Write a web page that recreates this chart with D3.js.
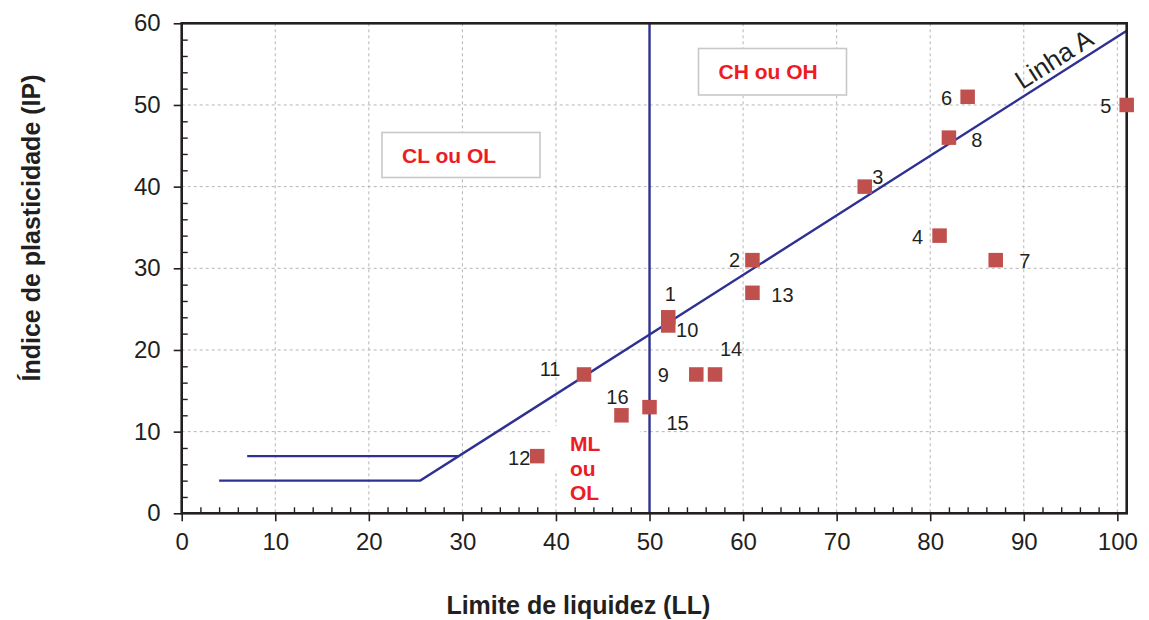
<!DOCTYPE html>
<html>
<head>
<meta charset="utf-8">
<script src="https://cdn.jsdelivr.net/npm/d3@7"></script>
<style>
  html, body { margin: 0; padding: 0; background: #fff; }
  svg { display: block; font-family: "Liberation Sans", Arial, sans-serif; }
</style>
</head>
<body>
<svg id="chart" width="1149" height="620"></svg>
<script>
// Soil samples: liquid limit (LL) and plasticity index (IP)
const sampleIds = [1, 2, 3, 4, 5, 6, 7, 8, 9, 10, 11, 12, 13, 14, 15, 16];
const llValues  = [52, 61, 73, 81, 101, 84, 87, 82, 55, 52, 43, 38, 61, 57, 50, 47];
const ipValues  = [24, 31, 40, 34, 50, 51, 31, 46, 17, 23, 17, 7, 27, 17, 13, 12];

// Casagrande chart reference lines
const lineA_LL = [4, 25.5, 101];
const lineA_IP = [4, 4, 59.1];
const upperBand_LL = [7, 29.6];
const upperBand_IP = [7, 7];
const divider_LL = [50, 50];
const divider_IP = [0, 60];

// Axis ticks
const xTicks = [0, 10, 20, 30, 40, 50, 60, 70, 80, 90, 100];
const yTicks = [0, 10, 20, 30, 40, 50, 60];

// Where each sample number sits around its marker (pixels)
const labelOffsets = {
  1: [2, -23], 2: [-18, 0], 3: [13, -10], 4: [-22, 1], 5: [-21, 1],
  6: [-21, 1], 7: [29, 1], 8: [28, 2], 9: [-33, 1], 10: [19, 5],
  11: [-34, -5], 12: [-18, 2], 13: [30, 2], 14: [16, -25], 15: [28, 16],
  16: [-4, -18]
};

const svg = d3.select("#chart");
const plotL = 181.7, plotR = 1126.7, plotT = 23.3, plotB = 513.3;
const x = d3.scaleLinear().domain([0, 101]).range([plotL, plotR]);
const y = d3.scaleLinear().domain([0, 60]).range([plotB, plotT]);

const ink = "#231f20";
const navy = "#2e3192";
const red = "#ed1c24";

// Dashed grid
const grid = svg.append("g");
grid.selectAll("line.vx").data(xTicks.filter(d => d > 0)).join("line")
  .attr("x1", d => x(d)).attr("x2", d => x(d))
  .attr("y1", plotT).attr("y2", plotB)
  .attr("stroke", "#b5b5b5").attr("stroke-width", 1).attr("stroke-dasharray", "3,3");
grid.selectAll("line.hy").data(yTicks.filter(d => d > 0 && d < 60)).join("line")
  .attr("x1", plotL).attr("x2", plotR)
  .attr("y1", d => y(d)).attr("y2", d => y(d))
  .attr("stroke", "#b5b5b5").attr("stroke-width", 1).attr("stroke-dasharray", "3,3");

// Zone boxes
function zoneBox(x0, y0, w, h, label) {
  svg.append("rect").attr("x", x0).attr("y", y0).attr("width", w).attr("height", h)
    .attr("fill", "#fff").attr("stroke", "#c8c8c8").attr("stroke-width", 1.6);
  svg.append("text").attr("x", x0 + 20).attr("y", y0 + h / 2)
    .attr("dominant-baseline", "central")
    .attr("font-size", 21).attr("font-weight", "bold").attr("fill", red)
    .text(label);
}
zoneBox(382, 132.5, 158, 45, "CL ou OL");
zoneBox(698.5, 48.5, 148, 46.5, "CH ou OH");

// ML ou OL zone label on a white patch
svg.append("rect").attr("x", 550).attr("y", 426).attr("width", 90).attr("height", 44).attr("fill", "#fff");
const mlText = svg.append("text").attr("font-size", 21).attr("font-weight", "bold").attr("fill", red);
["ML", "ou", "OL"].forEach((t, i) => {
  mlText.append("tspan").attr("x", 570).attr("y", 451 + i * 24.5).text(t);
});

// Reference lines
const line = d3.line().x(d => x(d[0])).y(d => y(d[1]));
function drawLine(xs, ys) {
  svg.append("path").datum(xs.map((v, i) => [v, ys[i]]))
    .attr("d", line).attr("fill", "none").attr("stroke", navy)
    .attr("stroke-width", 2.4);
}
drawLine(lineA_LL, lineA_IP);
drawLine(upperBand_LL, upperBand_IP);
drawLine(divider_LL, divider_IP);

// Line A label along the line
const angle = Math.atan2(y(lineA_IP[2]) - y(lineA_IP[1]), x(lineA_LL[2]) - x(lineA_LL[1])) * 180 / Math.PI;
const aLL = 94.1, aIP = 4 + (aLL - lineA_LL[1]) * (lineA_IP[2] - lineA_IP[1]) / (lineA_LL[2] - lineA_LL[1]);
svg.append("text")
  .attr("transform", `translate(${x(aLL)},${y(aIP)}) rotate(${angle})`)
  .attr("y", -6).attr("text-anchor", "middle")
  .attr("font-size", 26).attr("fill", ink)
  .text("Linha A");

// Plot frame
svg.append("rect").attr("x", plotL).attr("y", plotT)
  .attr("width", plotR - plotL).attr("height", plotB - plotT)
  .attr("fill", "none").attr("stroke", ink).attr("stroke-width", 2.6);

// Axes: major ticks outside with labels, minor ticks inside
const xMinor = d3.range(2, 101, 2).filter(d => d % 10 !== 0);
const yMinor = d3.range(2, 60, 2).filter(d => d % 10 !== 0);

const xAxis = svg.append("g").attr("transform", `translate(0,${plotB})`)
  .call(d3.axisBottom(x).tickValues(xTicks).tickFormat(d3.format("d")).tickSize(8).tickSizeOuter(0).tickPadding(12));
xAxis.select(".domain").remove();
xAxis.selectAll(".tick line").attr("stroke", ink).attr("stroke-width", 1.6);
xAxis.selectAll(".tick text").attr("font-size", 24).attr("fill", ink)
  .attr("font-family", "Liberation Sans, Arial, sans-serif");

const xMinorAxis = svg.append("g").attr("transform", `translate(0,${plotB})`)
  .call(d3.axisBottom(x).tickValues(xMinor).tickFormat("").tickSize(-6).tickSizeOuter(0));
xMinorAxis.select(".domain").remove();
xMinorAxis.selectAll(".tick line").attr("stroke", ink).attr("stroke-width", 1.4);

const yAxis = svg.append("g").attr("transform", `translate(${plotL},0)`)
  .call(d3.axisLeft(y).tickValues(yTicks).tickFormat(d3.format("d")).tickSize(8).tickSizeOuter(0).tickPadding(13));
yAxis.select(".domain").remove();
yAxis.selectAll(".tick line").attr("stroke", ink).attr("stroke-width", 1.6);
yAxis.selectAll(".tick text").attr("font-size", 24).attr("fill", ink)
  .attr("font-family", "Liberation Sans, Arial, sans-serif");

const yMinorAxis = svg.append("g").attr("transform", `translate(${plotL},0)`)
  .call(d3.axisLeft(y).tickValues(yMinor).tickFormat("").tickSize(-6).tickSizeOuter(0));
yMinorAxis.select(".domain").remove();
yMinorAxis.selectAll(".tick line").attr("stroke", ink).attr("stroke-width", 1.4);

// Sample markers
const samples = sampleIds.map((id, i) => ({ id, ll: llValues[i], ip: ipValues[i] }));
const size = 14.5;
svg.append("g").selectAll("rect").data(samples).join("rect")
  .attr("x", d => x(d.ll) - size / 2).attr("y", d => y(d.ip) - size / 2)
  .attr("width", size).attr("height", size)
  .attr("fill", "#c0504d");

svg.append("g").selectAll("text").data(samples).join("text")
  .attr("x", d => x(d.ll) + labelOffsets[d.id][0])
  .attr("y", d => y(d.ip) + labelOffsets[d.id][1])
  .attr("text-anchor", "middle").attr("dominant-baseline", "central")
  .attr("font-size", 20).attr("fill", ink)
  .text(d => d.id);

// Axis titles
svg.append("text").attr("x", (plotL + 975) / 2).attr("y", 614)
  .attr("text-anchor", "middle").attr("font-size", 25).attr("font-weight", "bold").attr("fill", ink)
  .text("Limite de liquidez (LL)");
svg.append("text").attr("transform", `translate(40,${228}) rotate(-90)`)
  .attr("text-anchor", "middle").attr("font-size", 25).attr("font-weight", "bold").attr("fill", ink)
  .text("Índice de plasticidade (IP)");
</script>
</body>
</html>
